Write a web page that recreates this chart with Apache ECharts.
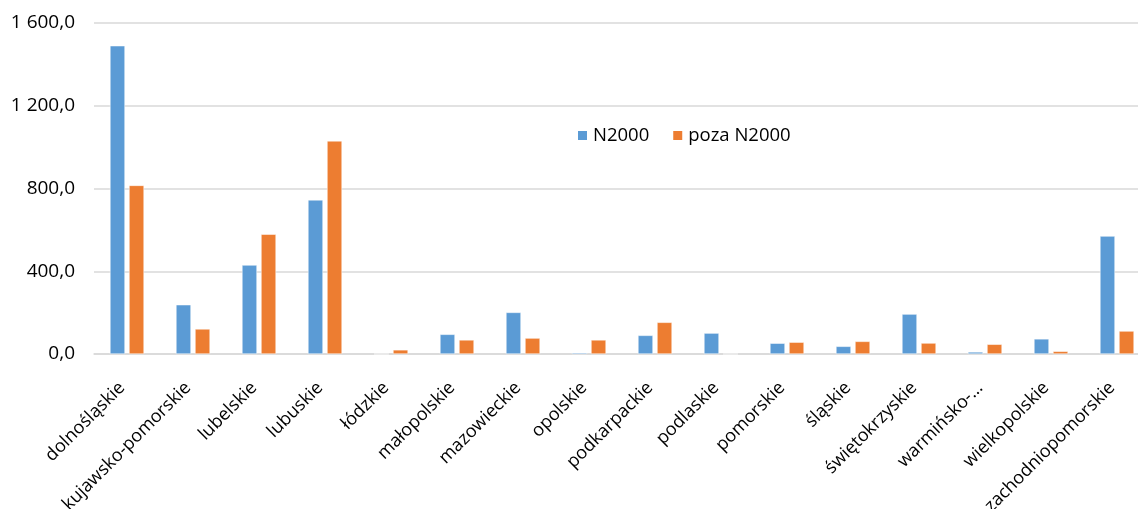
<!DOCTYPE html>
<html><head><meta charset="utf-8">
<script src="https://cdn.jsdelivr.net/npm/echarts@6/dist/echarts.min.js"></script>
<style>html,body{margin:0;padding:0;background:#fff}#c{width:1138px;height:509px}</style>
</head><body><div id="c"></div>
<script>
const categories = ['dolnośląskie','kujawsko-pomorskie','lubelskie','lubuskie','łódzkie','małopolskie','mazowieckie','opolskie','podkarpackie','podlaskie','pomorskie','śląskie','świętokrzyskie','warmińsko-...','wielkopolskie','zachodniopomorskie'];
const n2000 = [1490, 238, 430, 745, 0, 95, 201, 6, 90, 101, 52, 37, 193, 10, 73, 570];
const pozaN2000 = [815, 121, 579, 1030, 20, 68, 77, 68, 153, 0, 57, 61, 53, 47, 13, 111];
const yTicks = [0, 400, 800, 1200, 1600];

const font = 'Open Sans, Liberation Sans, sans-serif';
function fmt(v){
  const s = v.toFixed(1).replace('.', ',');
  const [i, d] = s.split(',');
  return i.replace(/\B(?=(\d{3})+(?!\d))/g, ' ') + ',' + d;
}
const chart = echarts.init(document.getElementById('c'));
chart.setOption({
  animation: false,
  color: ['#5B9BD5', '#ED7D31'],
  grid: { left: 94, top: 23, width: 1056, height: 331, containLabel: false, outerBoundsMode: 'none' },
  legend: {
    left: 571, top: 121, itemWidth: 11, itemHeight: 11, itemGap: 22,
    icon: 'rect',
    textStyle: { fontFamily: font, fontSize: 18.5, color: '#000' },
    data: ['N2000', 'poza N2000']
  },
  xAxis: {
    type: 'category', data: categories,
    axisLine: { lineStyle: { color: '#D9D9D9', width: 1.5 } },
    axisTick: { show: false },
    axisLabel: { rotate: 45, interval: 0, margin: 26, padding: [0, 7, 0, 0], fontFamily: font, fontSize: 18, color: '#000' }
  },
  yAxis: {
    type: 'value', min: yTicks[0], max: yTicks[yTicks.length - 1], interval: 400,
    axisLine: { show: false }, axisTick: { show: false },
    splitLine: { lineStyle: { color: '#D9D9D9', width: 1.5 } },
    axisLabel: { formatter: fmt, margin: 19, fontFamily: font, fontSize: 19, color: '#000' }
  },
  series: [
    { name: 'N2000', type: 'bar', data: n2000, barWidth: 15, barGap: '27%',
      itemStyle: { borderColor: '#fff', borderWidth: 0.5 } },
    { name: 'poza N2000', type: 'bar', data: pozaN2000, barWidth: 15,
      itemStyle: { borderColor: '#fff', borderWidth: 0.5 } }
  ]
});
</script></body></html>
